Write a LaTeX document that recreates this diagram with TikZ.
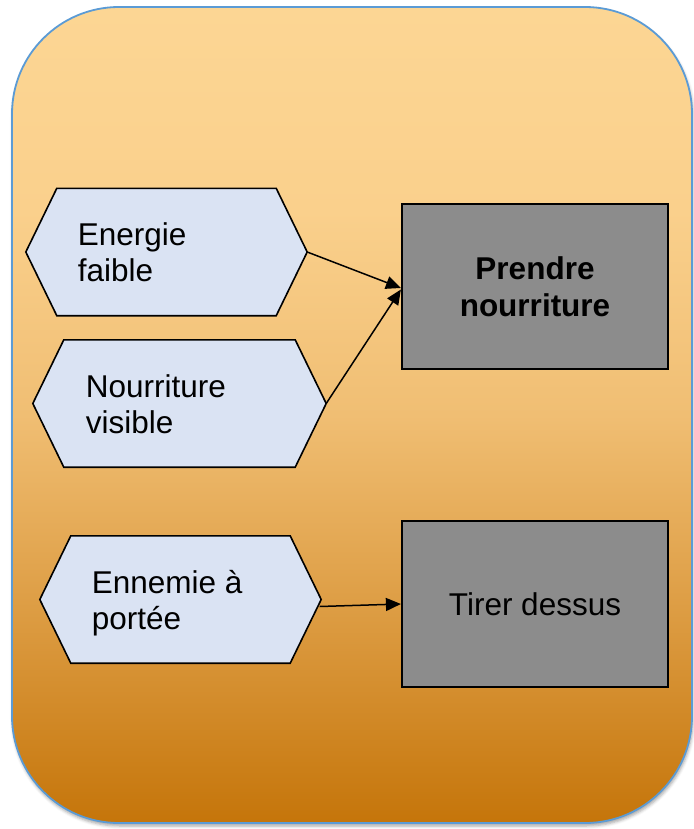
\documentclass[tikz,border=0pt]{standalone}
\usepackage{fontspec}
\setmainfont{Liberation Sans}
\usetikzlibrary{arrows.meta,shadows.blur}

% panel gradient stops, bottom to top
\definecolor{bgc0}{RGB}{197,117,10}
\definecolor{bgc1}{RGB}{220,155,65}
\definecolor{bgc2}{RGB}{240,190,115}
\definecolor{bgc3}{RGB}{250,208,140}
\definecolor{bgc4}{RGB}{252,214,148}
\definecolor{panelblue}{RGB}{91,155,213}
\definecolor{condfill}{RGB}{218,227,243}
\definecolor{actfill}{RGB}{140,140,140}

\pgfdeclareverticalshading{panelshade}{100bp}{%
  color(0bp)=(bgc0); color(25bp)=(bgc0); color(37.5bp)=(bgc1);
  color(50bp)=(bgc2); color(62.5bp)=(bgc3); color(75bp)=(bgc4);
  color(100bp)=(bgc4)}

% draws a flat hexagon around an empty anchor node: name, x, y, width
\newcommand\hexagonnode[4]{%
  \node[hexbox, minimum width=#4pt] (#1) at (#2,#3) {};
  \filldraw[hexline] (#1.west) -- ([xshift=31pt]#1.north west)
    -- ([xshift=-31pt]#1.north east) -- (#1.east)
    -- ([xshift=-31pt]#1.south east) -- ([xshift=31pt]#1.south west) -- cycle;}

\begin{document}
\begin{tikzpicture}[x=1pt, y=-1pt,
  panel/.style={rectangle, rounded corners=107pt, minimum width=680pt,
    minimum height=816pt, inner sep=0pt, draw=panelblue, line width=1.8pt,
    shade, shading=panelshade,
    blur shadow={shadow xshift=1pt, shadow yshift=-3pt,
      shadow blur radius=3pt, shadow opacity=35}},
  hexbox/.style={rectangle, minimum height=127pt, inner sep=0pt},
  hexline/.style={draw=black, fill=condfill, line width=1.6pt, line join=miter},
  condtext/.style={font=\fontsize{31.5}{36}\selectfont, align=left,
    inner sep=0pt, anchor=west},
  actbox/.style={rectangle, draw=black, fill=actfill, line width=2.2pt,
    minimum width=266pt, minimum height=165pt, inner sep=0pt,
    font=\fontsize{31.5}{37}\selectfont, align=center},
  conn/.style={draw=black, line width=1.5pt,
    -{Triangle[length=15pt, width=13pt]}}]

\useasboundingbox (0,0) rectangle (693,829);

% background panel
\node[panel] (panel) at (352,415) {};

% conditions
\hexagonnode{energie}{166.5}{252}{281}
\hexagonnode{nourr}{179.5}{403.5}{293}
\hexagonnode{ennemi}{180.5}{599.5}{281}

\node[condtext] (energie-txt) at (77.6,252.6) {Energie\\faible};
\node[condtext] (nourr-txt) at (85.6,403.9) {Nourriture\\visible};
\node[condtext] (ennemi-txt) at (91.6,602.7) {Ennemie à\\portée};

% actions
\node[actbox] (prendre) at (535,286.5) {\textbf{Prendre}\\\textbf{nourriture}};
\node[actbox, minimum height=166pt] (tirer) at (535,604) {Tirer dessus};

% connectors
\draw[conn] (energie.east) -- ([yshift=-1.5pt]prendre.west);
\draw[conn] (nourr.east) -- ([yshift=-3pt]prendre.west);
\draw[conn] ([xshift=-1.5pt,yshift=-7pt]ennemi.east) -- (tirer.west);

\end{tikzpicture}
\end{document}
